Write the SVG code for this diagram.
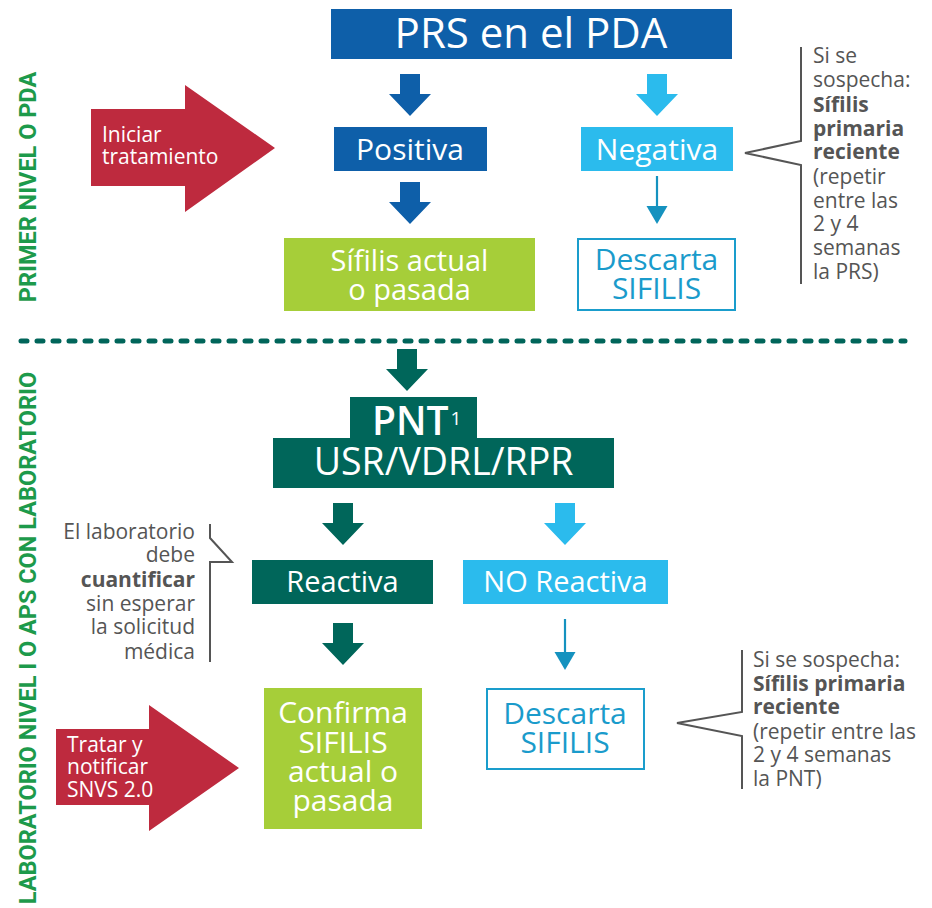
<svg xmlns="http://www.w3.org/2000/svg" width="932" height="908" viewBox="0 0 932 908">
<style>
text{font-family:"Open Sans","Noto Sans","Liberation Sans",sans-serif}
.w{fill:#fff}
.c{text-anchor:middle}
.note{fill:#555;font-size:21px}
.b{font-weight:bold}
.brk{fill:none;stroke:#555;stroke-width:2}
.vt{font-family:Roboto,"Liberation Sans",sans-serif;font-weight:bold;font-size:23.5px;fill:#1d9a4b;text-anchor:middle}
.thin{stroke:#1592bf;stroke-width:2.2}
.blue{fill:#1a9bcb}
</style>
<defs>
<path id="blk" d="M-10,0 H10 V20 H21 L0,42 L-21,20 H-10 Z"/>
<path id="thinhead" d="M-10.5,0 H10.5 L0,18 Z"/>
</defs>
<rect width="932" height="908" fill="#fff"/>

<g id="labels">
<text class="vt" transform="translate(36,187) rotate(-90)">PRIMER NIVEL O PDA</text>
<text class="vt" transform="translate(36,638) rotate(-90)">LABORATORIO NIVEL I O APS CON LABORATORIO</text>
<line x1="21" y1="341" x2="905" y2="341" stroke="#00655a" stroke-width="5" stroke-linecap="round" stroke-dasharray="6 10"/>
</g>

<g id="connectors">
<use href="#blk" x="410" y="74" fill="#0e5fa9"/>
<use href="#blk" x="410" y="182" fill="#0e5fa9"/>
<use href="#blk" x="657" y="74" fill="#2bbbed"/>
<line class="thin" x1="657" y1="176" x2="657" y2="207"/>
<use href="#thinhead" x="657" y="206" fill="#1592bf"/>
<use href="#blk" x="407" y="349" fill="#00665a"/>
<use href="#blk" x="343" y="503" fill="#00665a"/>
<use href="#blk" x="343" y="623" fill="#00665a"/>
<use href="#blk" x="565" y="503" fill="#2bbbed"/>
<line class="thin" x1="565" y1="619" x2="565" y2="653"/>
<use href="#thinhead" x="565" y="652" fill="#1592bf"/>
</g>

<g id="prs">
<rect x="331" y="9" width="401" height="50" fill="#0e5fa9"/>
<text class="w c" x="531" y="48" font-size="42">PRS en el PDA</text>
</g>

<g id="positiva">
<rect x="334" y="127" width="153" height="44" fill="#0e5fa9"/>
<text class="w c" x="410" y="160" font-size="30">Positiva</text>
</g>

<g id="negativa">
<rect x="581" y="127" width="152" height="44" fill="#2bbbed"/>
<text class="w c" x="657" y="160" font-size="30">Negativa</text>
</g>

<g id="sifilis-actual">
<rect x="284" y="238" width="251" height="73" fill="#a6ce39"/>
<text class="w c" font-size="29"><tspan x="409.5" y="271">Sífilis actual</tspan><tspan x="409.5" y="300">o pasada</tspan></text>
</g>

<g id="descarta1">
<rect x="578" y="239" width="157" height="71" fill="#fff" stroke="#1a9dcc" stroke-width="2"/>
<text class="c blue" font-size="30"><tspan x="656.5" y="270">Descarta</tspan><tspan x="656.5" y="299">SIFILIS</tspan></text>
</g>

<g id="nota1">
<path class="brk" d="M801,47 V141 L745,153 L801,165 V284"/>
<text class="note"><tspan x="813" y="63">Si se</tspan><tspan x="813" y="87">sospecha:</tspan><tspan class="b" x="813" y="112">Sífilis</tspan><tspan class="b" x="813" y="136">primaria</tspan><tspan class="b" x="813" y="159">reciente</tspan><tspan x="813" y="184">(repetir</tspan><tspan x="813" y="208">entre las</tspan><tspan x="813" y="231">2 y 4</tspan><tspan x="813" y="255">semanas</tspan><tspan x="813" y="279">la PRS)</tspan></text>
</g>

<g id="iniciar">
<polygon points="91,109 185,109 185,85 275,148 185,212 185,186 91,186" fill="#be2a3e"/>
<text class="w" font-size="21"><tspan x="102" y="142">Iniciar</tspan><tspan x="102" y="164">tratamiento</tspan></text>
</g>

<g id="pnt">
<rect x="350" y="397" width="127" height="42" fill="#00665a"/>
<rect x="273" y="438" width="341" height="50" fill="#00665a"/>
<text class="w" x="372" y="435" font-size="39" font-weight="600">PNT<tspan font-size="19" font-weight="normal" dx="2" dy="-10">1</tspan></text>
<text class="w c" x="443.5" y="475" font-size="37.5">USR/VDRL/RPR</text>
</g>

<g id="reactiva">
<rect x="252" y="560" width="181" height="44" fill="#00665a"/>
<text class="w c" x="342.5" y="592" font-size="29">Reactiva</text>
</g>

<g id="no-reactiva">
<rect x="463" y="560" width="205" height="44" fill="#2bbbed"/>
<text class="w c" x="565.5" y="592" font-size="29">NO Reactiva</text>
</g>

<g id="nota-lab">
<path class="brk" d="M210,524 V538 L232,562 H210 V662"/>
<text class="note" text-anchor="end"><tspan x="195" y="539">El laboratorio</tspan><tspan x="195" y="562">debe</tspan><tspan class="b" x="195" y="587">cuantificar</tspan><tspan x="195" y="611">sin esperar</tspan><tspan x="195" y="634">la solicitud</tspan><tspan x="195" y="659">médica</tspan></text>
</g>

<g id="confirma">
<rect x="264" y="688" width="158" height="141" fill="#a6ce39"/>
<text class="w c" font-size="30"><tspan x="343" y="723">Confirma</tspan><tspan x="343" y="753">SIFILIS</tspan><tspan x="343" y="782">actual o</tspan><tspan x="343" y="811">pasada</tspan></text>
</g>

<g id="tratar">
<polygon points="56,729 149,729 149,705 239,768 149,831 149,805 56,805" fill="#be2a3e"/>
<text class="w" font-size="21"><tspan x="67" y="752">Tratar y</tspan><tspan x="67" y="774">notificar</tspan><tspan x="67" y="797">SNVS 2.0</tspan></text>
</g>

<g id="descarta2">
<rect x="487" y="689" width="157" height="80" fill="#fff" stroke="#1a9dcc" stroke-width="2"/>
<text class="c blue" font-size="30"><tspan x="565" y="724">Descarta</tspan><tspan x="565" y="753">SIFILIS</tspan></text>
</g>

<g id="nota2">
<path class="brk" d="M742,650 V712 L677,723 L742,736 V789"/>
<text class="note"><tspan x="753" y="667">Si se sospecha:</tspan><tspan class="b" x="753" y="691">Sífilis primaria</tspan><tspan class="b" x="753" y="714">reciente</tspan><tspan x="753" y="739">(repetir entre las</tspan><tspan x="753" y="762">2 y 4 semanas</tspan><tspan x="753" y="786">la PNT)</tspan></text>
</g>
</svg>
